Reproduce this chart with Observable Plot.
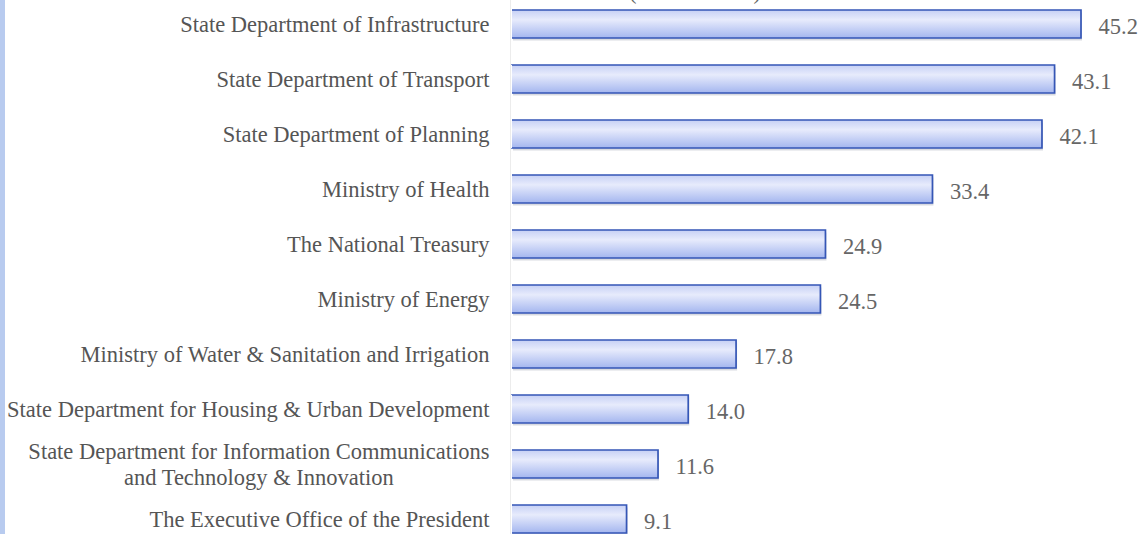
<!DOCTYPE html>
<html>
<head>
<meta charset="utf-8">
<script src="https://cdn.jsdelivr.net/npm/d3@7"></script>
<script src="https://cdn.jsdelivr.net/npm/@observablehq/plot@0.6"></script>
<style>
  html, body { margin: 0; padding: 0; background: #fff; }
  #wrap { position: relative; width: 1139px; height: 534px; overflow: hidden; }
  #strip { position: absolute; left: 0; top: 0; width: 5px; height: 534px; background: #b8cbef; }
  #chart svg { display: block; }
</style>
</head>
<body>
<div id="wrap"><div id="strip"></div><div id="chart"></div></div>
<script>
const categories = [
  "State Department of Infrastructure",
  "State Department of Transport",
  "State Department of Planning",
  "Ministry of Health",
  "The National Treasury",
  "Ministry of Energy",
  "Ministry of Water & Sanitation and Irrigation",
  "State Department for Housing & Urban Development",
  "State Department for Information Communications\nand Technology & Innovation",
  "The Executive Office of the President"
];
const values = [45.2, 43.1, 42.1, 33.4, 24.9, 24.5, 17.8, 14.0, 11.6, 9.1];
const titleText = "(KSh Billions)";

const data = categories.map((name, i) => ({name, value: values[i]}));
const fmt = d3.format(".1f");

const defs = () => {
  const d = d3.create("svg:defs");
  const g = d.append("linearGradient").attr("id", "barGrad")
    .attr("x1", 0).attr("y1", 0).attr("x2", 0).attr("y2", 1);
  g.append("stop").attr("offset", "0%").attr("stop-color", "#c6d0f5");
  g.append("stop").attr("offset", "35%").attr("stop-color", "#e7ebfc");
  g.append("stop").attr("offset", "100%").attr("stop-color", "#a4b6ef");
  return d.node();
};

const chart = Plot.plot({
  width: 1139,
  height: 534,
  marginLeft: 0, marginRight: 0, marginTop: 0, marginBottom: 0,
  style: {fontFamily: "'Liberation Serif', 'Times New Roman', serif", fontSize: "22.5px", background: "transparent"},
  x: {domain: [0, 45.2], range: [512, 1081], axis: null},
  y: {domain: categories, range: [-3.5, 547.5], paddingInner: 0.49, paddingOuter: 0.245, axis: null},
  marks: [
    defs,
    Plot.ruleX([0], {stroke: "#ececec", dx: -2}),
    Plot.barX(data, {x: "value", y: "name", fill: "#7d8499", fillOpacity: 0.3, dy: 2.5, dx: 1}),
    Plot.barX(data, {x: "value", y: "name", fill: "url(#barGrad)", stroke: "#3556b6", strokeWidth: 1.7, className: "mainbar"}),
    Plot.text(data, {x: 0, y: "name", text: "name", textAnchor: "end", dx: -23, dy: -1, fill: "#555", lineHeight: 1.16, className: "catlabel"}),
    Plot.text(data, {x: "value", y: "name", text: d => fmt(d.value), textAnchor: "start", dx: 17, dy: 2, fill: "#666"}),
    Plot.text([titleText], {frameAnchor: "top", text: d => d, dx: 125, dy: -17, fill: "#666", textAnchor: "middle"})
  ]
});
document.getElementById("chart").appendChild(chart);

// no left border on bars: dash pattern skipping the left edge
d3.select(chart).selectAll(".mainbar rect").each(function() {
  const w = +this.getAttribute("width"), h = +this.getAttribute("height");
  this.setAttribute("stroke-dasharray", `${2 * w + h} ${h}`);
});
// center multi-line category labels on their own width
d3.select(chart).selectAll(".catlabel text").each(function() {
  const spans = this.querySelectorAll("tspan");
  if (spans.length > 1) {
    const w = this.getBBox().width;
    this.setAttribute("text-anchor", "middle");
    const t = this.getAttribute("transform") || "";
    this.setAttribute("transform", t + ` translate(${-w / 2},0)`);
  }
});
</script>
</body>
</html>
